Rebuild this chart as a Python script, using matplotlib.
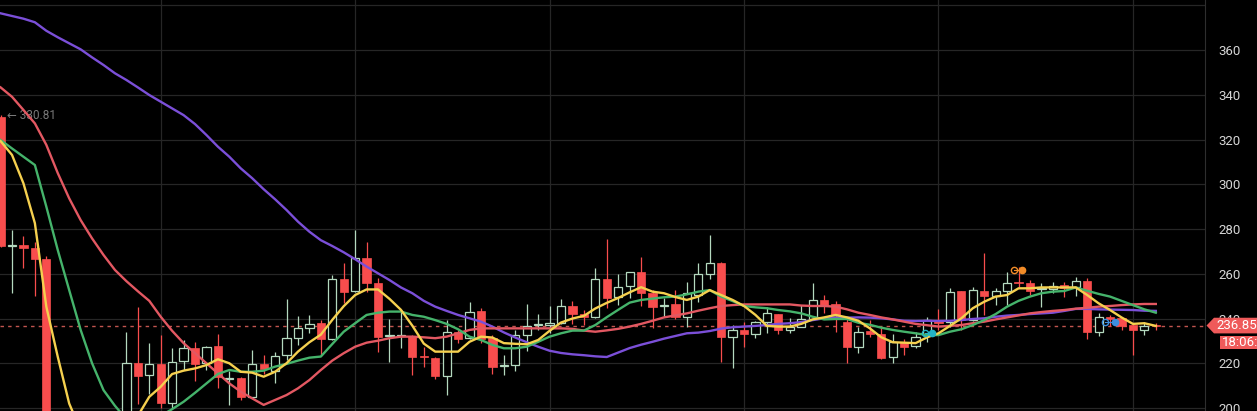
import matplotlib
matplotlib.use('Agg')
import matplotlib.pyplot as plt
from matplotlib.patches import Polygon, Rectangle

# candles, oldest first (values below ~199 fall outside the visible price range)
opens = [330.0, 272.5, 273.0, 271.5, 266.6, 143.0, 162.0, 180.0, 175.0, 182.0,
         191.0, 188.0, 220.0, 214.8, 219.5, 202.1, 221.0, 226.7, 220.0, 227.7,
         212.8, 213.3, 205.1, 219.7, 216.7, 223.7, 231.2, 235.6, 237.9, 230.7,
         257.5, 252.3, 266.9, 255.7, 232.0, 232.3, 232.3, 223.3, 222.2, 214.5,
         233.8, 231.2, 243.4, 231.2, 218.7, 219.2, 232.6, 237.0, 237.3, 237.9,
         245.7, 242.0, 240.5, 257.5, 249.5, 254.5, 260.6, 251.3, 245.5, 246.3,
         240.8, 250.5, 259.8, 264.9, 231.9, 234.9, 233.0, 238.6, 241.9, 234.9,
         236.1, 239.8, 248.3, 246.3, 238.6, 227.4, 234.4, 233.2, 222.6, 229.6,
         227.7, 232.6, 239.3, 238.6, 252.3, 239.3, 252.4, 250.2, 252.4, 256.2,
         255.7, 253.3, 253.1, 255.0, 254.2, 256.8, 234.1, 240.6, 240.1, 237.1,
         234.9, 237.2]
highs = [330.81, 279.5, 277.0, 274.2, 268.0, 175.0, 190.0, 192.0, 195.0, 197.0,
         198.0, 234.1, 245.3, 228.9, 232.6, 227.0, 230.4, 229.6, 227.5, 233.1,
         216.7, 214.0, 225.9, 223.7, 225.2, 248.6, 241.1, 241.6, 239.3, 259.5,
         264.9, 279.6, 274.3, 258.0, 239.6, 243.8, 232.5, 227.4, 223.0, 239.3,
         234.9, 247.5, 244.6, 232.6, 223.7, 234.9, 246.3, 241.9, 245.6, 248.6,
         247.8, 243.8, 262.4, 275.4, 259.9, 261.0, 267.6, 252.7, 249.0, 252.7,
         256.5, 264.7, 277.3, 265.2, 237.1, 238.6, 239.0, 245.3, 242.2, 240.4,
         246.0, 255.7, 250.5, 247.8, 240.8, 236.1, 239.3, 236.1, 233.0, 230.7,
         234.1, 240.5, 244.1, 253.5, 252.5, 254.2, 269.4, 253.5, 260.9, 263.2,
         257.2, 255.7, 256.5, 256.5, 258.7, 258.0, 242.6, 241.6, 240.8, 237.5,
         238.6, 237.8]
lows = [272.0, 251.5, 262.6, 250.0, 135.0, 130.0, 155.0, 168.0, 170.0, 178.0,
        183.0, 185.0, 202.0, 206.3, 200.0, 200.0, 217.0, 212.2, 217.0, 208.8,
        201.3, 203.6, 205.0, 215.2, 211.0, 221.5, 228.2, 233.4, 223.7, 230.5,
        246.8, 252.0, 252.0, 225.2, 220.7, 226.7, 214.8, 218.5, 212.8, 205.8,
        229.0, 231.0, 229.0, 215.2, 214.8, 216.7, 225.6, 234.9, 233.4, 237.5,
        237.6, 237.1, 240.3, 244.6, 246.0, 249.0, 245.6, 235.6, 240.8, 240.0,
        236.4, 247.5, 257.5, 220.7, 217.8, 227.4, 231.2, 233.4, 233.0, 233.4,
        236.0, 239.5, 242.3, 234.1, 220.0, 224.8, 231.9, 222.0, 220.3, 223.7,
        226.7, 229.6, 234.9, 236.4, 234.9, 239.0, 241.6, 246.0, 246.0, 254.2,
        250.5, 245.0, 251.3, 249.5, 250.1, 230.7, 232.2, 236.7, 234.9, 223.7,
        232.6, 234.9]
closes = [272.5, 273.0, 271.5, 266.6, 143.0, 162.0, 180.0, 175.0, 182.0, 191.0,
          188.0, 220.3, 214.5, 219.5, 202.1, 220.7, 226.7, 219.7, 227.1, 214.0,
          213.2, 204.8, 219.5, 217.4, 223.2, 231.2, 235.6, 237.6, 230.7, 257.5,
          252.0, 266.9, 255.7, 231.9, 232.6, 232.8, 223.0, 222.8, 214.3, 234.1,
          230.8, 243.1, 230.8, 218.5, 219.2, 232.6, 236.8, 237.5, 237.8, 245.7,
          242.0, 240.5, 257.5, 249.3, 254.2, 260.6, 251.3, 245.3, 246.2, 240.5,
          251.3, 259.8, 264.7, 231.9, 234.9, 233.0, 238.6, 242.3, 234.9, 236.4,
          239.8, 248.3, 246.0, 241.6, 227.4, 234.1, 233.1, 222.2, 229.6, 227.4,
          231.9, 239.3, 237.9, 252.0, 239.3, 252.7, 250.2, 252.4, 255.7, 255.8,
          252.4, 253.8, 254.5, 253.5, 256.8, 234.1, 240.5, 240.0, 236.7, 234.9,
          236.7, 236.85]

# moving average lines
ma_yellow = [319.3, 313.1, 300.4, 282.6, 245.3, 222.9, 202.0, 190.0, 182.0, 179.0,
             181.0, 187.0, 196.5, 205.0, 209.5, 215.2, 216.7, 217.7, 219.2, 221.8,
             220.0, 216.2, 215.8, 214.0, 216.2, 220.0, 225.2, 229.4, 232.8, 239.4,
             245.5, 250.5, 253.0, 253.0, 248.8, 243.9, 236.8, 228.8, 225.2, 225.2,
             225.2, 229.6, 231.9, 231.5, 229.0, 228.7, 228.5, 230.4, 234.5, 238.2,
             240.0, 241.2, 244.5, 247.0, 249.2, 251.7, 254.0, 252.0, 251.3, 249.6,
             248.3, 249.8, 252.7, 250.5, 248.3, 245.6, 241.6, 236.7, 236.4, 236.4,
             237.6, 239.6, 240.5, 241.6, 240.5, 239.0, 235.6, 231.6, 229.4, 229.2,
             229.0, 231.6, 233.4, 236.7, 240.1, 244.6, 247.5, 249.8, 250.5, 253.5,
             253.5, 253.9, 253.9, 253.9, 253.9, 250.5, 246.8, 243.8, 240.5, 237.6,
             237.9, 236.7]
ma_green = [319.8, 316.0, 312.3, 308.6, 290.0, 270.6, 252.7, 234.9, 220.0, 208.0,
            201.0, 195.0, 192.0, 193.0, 196.5, 199.5, 202.8, 206.8, 211.0, 215.2,
            217.0, 216.2, 216.2, 216.7, 218.5, 219.7, 221.2, 222.5, 223.0, 228.6,
            234.1, 237.9, 241.6, 242.6, 243.1, 243.1, 241.6, 240.8, 239.3, 237.6,
            235.2, 231.9, 230.4, 228.2, 226.7, 226.7, 227.4, 229.6, 231.9, 233.4,
            234.6, 234.6, 237.1, 240.6, 243.9, 247.1, 248.3, 248.9, 249.5, 249.8,
            250.8, 252.0, 252.7, 249.8, 247.8, 245.6, 245.0, 244.6, 243.8, 243.2,
            242.3, 240.8, 239.6, 239.8, 239.8, 238.1, 237.2, 235.9, 234.9, 234.1,
            233.4, 232.6, 232.6, 234.1, 235.2, 237.1, 239.3, 242.0, 245.3, 247.9,
            249.8, 251.3, 252.0, 252.3, 253.9, 252.4, 251.0, 249.8, 247.9, 246.0,
            244.1, 242.6]
ma_red = [343.3, 339.1, 333.2, 327.2, 317.6, 305.0, 293.7, 284.0, 275.8, 268.4,
          261.7, 256.7, 252.2, 247.9, 240.8, 234.5, 229.0, 224.5, 220.0, 215.5,
          211.0, 207.3, 204.3, 201.4, 203.6, 205.8, 208.8, 212.5, 217.0, 221.2,
          224.5, 227.4, 229.2, 230.1, 231.2, 231.9, 231.9, 231.6, 231.2, 231.9,
          233.4, 234.9, 235.6, 235.6, 235.6, 235.6, 235.6, 235.6, 235.6, 235.6,
          235.4, 234.6, 234.1, 234.7, 235.4, 236.4, 237.6, 239.0, 240.5, 241.4,
          242.3, 243.5, 244.6, 245.6, 246.0, 246.3, 246.3, 246.3, 246.3, 246.3,
          245.8, 245.6, 245.6, 245.3, 244.1, 242.6, 241.6, 240.5, 239.6, 238.6,
          237.6, 237.0, 236.4, 236.7, 237.1, 237.9, 238.6, 239.6, 240.5, 241.4,
          242.3, 242.9, 243.4, 243.8, 244.4, 244.8, 245.3, 245.6, 246.0, 246.3,
          246.5, 246.5]
ma_purple = [376.4, 375.2, 374.0, 372.4, 368.6, 365.7, 363.0, 360.3, 356.7, 353.3,
             349.6, 346.6, 343.3, 339.9, 336.9, 333.9, 330.9, 326.9, 322.0, 316.8,
             312.3, 307.1, 302.7, 297.8, 293.3, 288.5, 283.3, 278.8, 275.0, 272.4,
             269.6, 266.5, 263.2, 260.2, 257.2, 253.9, 251.3, 247.9, 245.3, 243.4,
             241.6, 240.1, 238.6, 236.4, 233.8, 231.5, 229.4, 227.4, 225.6, 224.6,
             224.0, 223.6, 223.1, 222.8, 224.8, 226.8, 228.3, 229.6, 231.0, 232.2,
             233.4, 233.7, 234.4, 235.5, 236.1, 236.4, 236.7, 237.1, 237.6, 237.9,
             238.4, 239.3, 240.1, 240.5, 240.4, 240.5, 240.4, 240.1, 239.6, 239.0,
             238.9, 239.0, 238.9, 239.0, 239.3, 239.8, 240.1, 240.8, 241.3, 241.6,
             242.0, 242.3, 242.6, 243.4, 244.3, 244.3, 244.1, 244.0, 243.9, 243.8,
             243.5, 243.4]

last_price = 236.85
peak_label = 330.81
price_ticks = [200, 220, 240, 260, 280, 300, 320, 340, 360, 380]
time_grid = [14, 31, 48, 65, 82, 99]

# trade markers: (open circle x, filled circle x, price, colour)
markers = [(88.6, 89.3, 261.8, '#f28c28'),
           (80.8, 81.4, 233.5, '#22b3c6'),
           (96.6, 97.4, 238.3, '#3d8fe0')]

BG = '#000000'
GRID = '#262626'
UP = '#b4d9bf'
DOWN = '#f84d4d'

fig = plt.figure(figsize=(12.57, 4.11), dpi=100, facecolor=BG)
ax = fig.add_axes([0, 0, 1205 / 1257, 1])
ax.set_facecolor(BG)

w = 0.72
for i, (o, h, l, c) in enumerate(zip(opens, highs, lows, closes)):
    up = c >= o
    col = UP if up else DOWN
    ax.vlines(i, l, h, color=col, lw=0.9, zorder=2)
    bot = min(o, c)
    hgt = max(abs(c - o), 0.35)
    if up:
        ax.add_patch(Rectangle((i - w / 2, bot), w, hgt, facecolor=BG,
                               edgecolor=col, lw=0.9, zorder=2.2))
    else:
        ax.add_patch(Rectangle((i - w / 2, bot), w, hgt, facecolor=col,
                               edgecolor=col, lw=0.5, zorder=2.2))

x = range(len(closes))
ax.plot(x, ma_purple, color='#7b4fd8', lw=1.7, zorder=3)
ax.plot(x, ma_red, color='#e35862', lw=1.7, zorder=3.1)
ax.plot(x, ma_green, color='#45b36b', lw=1.7, zorder=3.2)
ax.plot(x, ma_yellow, color='#f5d04f', lw=1.7, zorder=3.3)

for xo, xf, p, col in markers:
    ax.plot([xo, xf], [p, p], color=col, lw=0.8, zorder=4)
    ax.plot(xo, p, 'o', ms=4.5, mfc='none', mec=col, mew=1.0, zorder=4)
    ax.plot(xf, p, 'o', ms=4.5, mfc=col, mec=col, zorder=4)

ax.axhline(last_price, color='#c2554f', lw=1.0, ls=(0, (2.5, 3)), zorder=1.5)

ax.text(0.55, peak_label, '\u2190 ' + f'{peak_label:.2f}', color='#7a7a7a',
        fontsize=8.5, va='center', ha='left', family=['Roboto', 'DejaVu Sans'])

ax.set_xlim(-0.05, 105.3)
ax.set_ylim(198.67, 382.35)
ax.set_xticks(time_grid)
ax.set_yticks(price_ticks)
ax.set_yticklabels([str(v) if v <= 360 else '' for v in price_ticks])
ax.grid(True, color=GRID, lw=0.9, zorder=0)
ax.yaxis.tick_right()
ax.tick_params(axis='x', length=0, labelbottom=False)
ax.tick_params(axis='y', length=0, pad=9.5, labelsize=9.5, labelcolor='#d6d6d6')
for lab in ax.get_yticklabels():
    lab.set_family('Roboto')
for s in ['top', 'left', 'bottom']:
    ax.spines[s].set_visible(False)
ax.spines['right'].set_color('#2e2e2e')

# price tag on the right axis
tr = ax.get_yaxis_transform()
px = lambda p: p / 1205
hh = 3.5
tag = Polygon([(px(1206.5), last_price), (px(1214), last_price + hh),
               (px(1262), last_price + hh), (px(1262), last_price - hh),
               (px(1214), last_price - hh)], closed=True, transform=tr,
              facecolor='#ef5a5a', edgecolor='none', clip_on=False, zorder=10)
ax.add_patch(tag)
ax.text(px(1216), last_price, f'{last_price:.2f}', transform=tr, color='white',
        fontsize=9.5, va='center', ha='left', family='Roboto', clip_on=False, zorder=11)
ax.add_patch(Rectangle((px(1220), 226.4), px(1262) - px(1220), 5.8, transform=tr,
                       facecolor='#ef5a5a', edgecolor='none', clip_on=False, zorder=10))
ax.text(px(1222), 229.3, '18:06:56', transform=tr, color='white', fontsize=9.5,
        va='center', ha='left', family='Roboto', clip_on=False, zorder=11)

fig.savefig('out.png', dpi=100, facecolor=BG)
